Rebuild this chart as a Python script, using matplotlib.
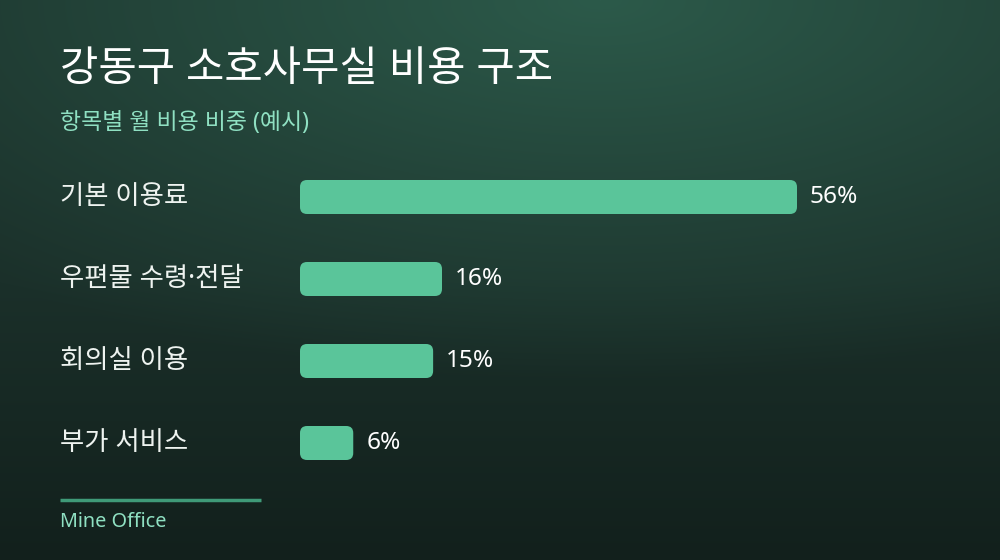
import matplotlib
matplotlib.use("Agg")
import matplotlib.pyplot as plt
import numpy as np
from matplotlib.patches import FancyBboxPatch

plt.rcParams['font.family'] = ['Noto Sans', 'Noto Sans CJK KR', 'DejaVu Sans']

# data
categories = ["기본 이용료", "우편물 수령·전달", "회의실 이용", "부가 서비스"]
shares = [56, 16, 15, 6]
value_labels = ["56%", "16%", "15%", "6%"]
title = "강동구 소호사무실 비용 구조"
subtitle = "항목별 월 비용 비중 (예시)"
footer = "Mine Office"

W, H = 1000, 560
fig = plt.figure(figsize=(10, 5.6), dpi=100)

# background gradient
bg = fig.add_axes([0, 0, 1, 1])
yy, xx = np.mgrid[0:H, 0:W]
top = np.array([0x2c, 0x5a, 0x4a]) / 255
mid = np.array([0x1b, 0x30, 0x2a]) / 255
bot = np.array([0x12, 0x20, 0x1c]) / 255
t = yy / H
# lighter glow near top center-right
d = np.sqrt(((xx - 600) / 900) ** 2 + (yy / 380) ** 2)
g = np.clip(d, 0, 1)[..., None]
base = np.where(t[..., None] < 0.5,
                mid[None, None, :] * 1.0,
                mid + (bot - mid) * ((t[..., None] - 0.5) / 0.5))
img = top * (1 - g) + base * g
bg.imshow(img, extent=[0, W, H, 0], aspect='auto')
bg.set_xlim(0, W)
bg.set_ylim(H, 0)
bg.axis('off')

# titles
bg.text(60, 70, title, color='white', fontsize=30, va='center', ha='left', fontweight='medium')
bg.text(60, 123, subtitle, color='#8fe0c2', fontsize=16.5, va='center', ha='left')

# footer
bg.plot([60, 261], [500, 500], color='#3f9a78', lw=2.5, solid_capstyle='butt')
bg.text(60, 522, footer, color='#8fe0c2', fontsize=14.3, va='center', ha='left')

# bar axes: 8.875 px per percent, 82 px per row
px_per = 8.875
xmax = 70
ax = fig.add_axes([300 / W, 1 - 484 / H, xmax * px_per / W, 328 / H])
ax.set_xlim(0, xmax)
ax.set_ylim(3.5, -0.5)
ax.axis('off')
ax.patch.set_alpha(0)

bh = 34 / 82
r_px = 7
aspect = px_per / 82
for i, (cat, v, lab) in enumerate(zip(categories, shares, value_labels)):
    p = FancyBboxPatch((0, i - bh / 2), v, bh,
                       boxstyle=f"round,pad=0,rounding_size={r_px / px_per}",
                       mutation_aspect=aspect,
                       facecolor='#5ac59a', edgecolor='none')
    ax.add_patch(p)
    ax.text(v + 13 / px_per, i, lab, color='white', fontsize=17.6, va='center', ha='left')
    ax.text(-240 / px_per, i, cat, color='#eef3f0', fontsize=19, va='center', ha='left',
            clip_on=False)

fig.savefig("out.png", dpi=100)
